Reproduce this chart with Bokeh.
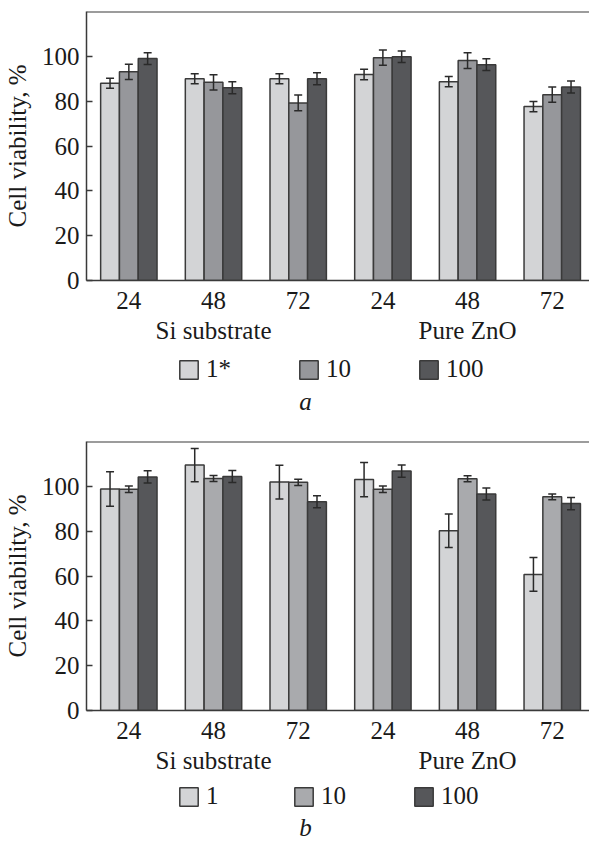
from bokeh.plotting import figure
from bokeh.models import (Range1d, FixedTicker, LinearAxis, Legend, LegendItem,
                          Whisker, TeeHead, ColumnDataSource, Label, Span)
from bokeh.layouts import column
from bokeh.embed import file_html
from bokeh.resources import INLINE

# ---------------- data ----------------
groups = ["Si substrate", "Pure ZnO"]
hours = ["24", "48", "72", "24", "48", "72"]
conc_a = ["1*", "10", "100"]
conc_b = ["1", "10", "100"]
y_ticks = [0, 20, 40, 60, 80, 100]

a_low = [88.0, 90.0, 90.0, 91.9, 88.7, 77.6]
a_low_err = [2.2, 2.2, 2.2, 2.3, 2.3, 2.3]
a_mid = [93.1, 88.4, 79.2, 99.4, 98.1, 82.9]
a_mid_err = [3.4, 3.4, 3.5, 3.4, 3.5, 3.4]
a_high = [99.0, 86.0, 90.0, 99.8, 96.3, 86.3]
a_high_err = [2.6, 2.7, 2.7, 2.6, 2.6, 2.7]

b_low = [98.8, 109.5, 101.9, 103.0, 80.2, 60.7]
b_low_err = [7.7, 7.4, 7.5, 7.6, 7.5, 7.5]
b_mid = [98.7, 103.5, 101.8, 98.7, 103.4, 95.3]
b_mid_err = [1.5, 1.3, 1.4, 1.5, 1.3, 1.3]
b_high = [104.2, 104.4, 93.1, 106.8, 96.6, 92.3]
b_high_err = [2.7, 2.7, 2.7, 2.7, 2.7, 2.7]

colors_a = ["#d3d4d6", "#96979b", "#56575a"]
colors_b = ["#d3d4d6", "#a9aaad", "#56575a"]

FONT = "Liberation Serif"
FS = "25px"
TXT = "#1a1a1a"
EDGE = "#3a3a3a"
WHISK = "#2a2a2a"
BW = 0.222


def make_chart(series, errs, colors, height, top_border, bottom_border):
    p = figure(width=589, height=height,
               x_range=Range1d(0, 5.94), y_range=Range1d(0, 120),
               output_backend="svg", toolbar_location=None,
               min_border_left=78, min_border_right=0,
               min_border_top=top_border, min_border_bottom=bottom_border)
    p.xgrid.grid_line_color = None
    p.ygrid.grid_line_color = None
    p.outline_line_color = None

    n = len(hours)
    sources = []
    for k, (vals, er, col) in enumerate(zip(series, errs, colors)):
        xs = [i + 0.5 + (k - 1) * BW for i in range(n)]
        src = ColumnDataSource(dict(
            x=xs, top=vals,
            upper=[v + e for v, e in zip(vals, er)],
            lower=[v - e for v, e in zip(vals, er)]))
        sources.append(src)
        p.vbar(x="x", top="top", width=BW, source=src,
               fill_color=col, line_color=EDGE, line_width=1.5)
        w = Whisker(source=src, base="x", upper="upper", lower="lower",
                    line_color=WHISK, line_width=1.5, level="annotation",
                    upper_head=TeeHead(size=8, line_color=WHISK, line_width=1.5),
                    lower_head=TeeHead(size=8, line_color=WHISK, line_width=1.5))
        p.add_layout(w)

    # top frame line (the right edge is cut off in the reference)
    p.add_layout(Span(location=120, dimension="width", line_color=EDGE, line_width=2))

    p.yaxis.ticker = FixedTicker(ticks=y_ticks, minor_ticks=[])
    p.yaxis.major_tick_in = 6
    p.yaxis.major_tick_out = 0
    p.yaxis.major_tick_line_color = EDGE
    p.yaxis.major_tick_line_width = 1.5
    p.yaxis.axis_line_color = EDGE
    p.yaxis.axis_line_width = 1.5
    p.yaxis.major_label_standoff = 7
    p.yaxis.major_label_text_font = FONT
    p.yaxis.major_label_text_font_size = FS
    p.yaxis.major_label_text_color = TXT
    p.yaxis.axis_label = "Cell viability, %"
    p.yaxis.axis_label_text_font = FONT
    p.yaxis.axis_label_text_font_size = FS
    p.yaxis.axis_label_text_font_style = "normal"
    p.yaxis.axis_label_text_color = TXT
    p.yaxis.axis_label_standoff = 8

    centers = [i + 0.5 for i in range(n)]
    p.xaxis.ticker = FixedTicker(ticks=centers, minor_ticks=[])
    p.xaxis.major_label_overrides = {c: h for c, h in zip(centers, hours)}
    p.xaxis.major_tick_line_color = None
    p.xaxis.major_tick_in = 0
    p.xaxis.major_tick_out = 0
    p.xaxis.axis_line_color = EDGE
    p.xaxis.axis_line_width = 1.5
    p.xaxis.major_label_standoff = 11
    p.xaxis.major_label_text_font = FONT
    p.xaxis.major_label_text_font_size = FS
    p.xaxis.major_label_text_color = TXT

    gcent = [1.5, 4.5]
    ga = LinearAxis(ticker=FixedTicker(ticks=gcent, minor_ticks=[]),
                    major_label_overrides={c: g for c, g in zip(gcent, groups)},
                    axis_line_color=None, major_tick_line_color=None,
                    minor_tick_line_color=None, major_tick_in=0, major_tick_out=0,
                    major_label_standoff=5,
                    major_label_text_font=FONT, major_label_text_font_size=FS,
                    major_label_text_color=TXT)
    p.add_layout(ga, "below")
    return p, sources


def make_legend(sources, labels, colors, tag, height, leg_vy, tag_y):
    # strip holding the legend and the panel letter; its renderers share the
    # chart's data but are hidden, only their legend swatches are shown
    lp = figure(width=589, height=height,
                x_range=Range1d(0, 5.94), y_range=Range1d(-2, -1),
                output_backend="svg", toolbar_location=None,
                x_axis_location=None, y_axis_location=None,
                min_border_left=78, min_border_right=0,
                min_border_top=0, min_border_bottom=0)
    lp.xgrid.grid_line_color = None
    lp.ygrid.grid_line_color = None
    lp.outline_line_color = None
    rs = [lp.vbar(x="x", top="top", width=BW, source=s, fill_color=c,
                  line_color=EDGE, line_width=1.5)
          for s, c in zip(sources, colors)]
    for r in rs:
        r.visible = False
    legend = Legend(items=[LegendItem(label=l, renderers=[r]) for l, r in zip(labels, rs)],
                    orientation="horizontal", location=(91, leg_vy),
                    glyph_width=23, glyph_height=23, label_standoff=6, spacing=66,
                    padding=0, margin=0, border_line_color=None,
                    background_fill_alpha=0, click_policy="none",
                    label_text_font=FONT, label_text_font_size=FS,
                    label_text_color=TXT)
    lp.add_layout(legend)
    lp.add_layout(Label(x=219, y=tag_y, x_units="screen", y_units="screen", text=tag,
                        text_align="center", text_baseline="middle",
                        text_font=FONT, text_font_size=FS, text_font_style="italic",
                        text_color=TXT))
    return lp


p1, s1 = make_chart([a_low, a_mid, a_high], [a_low_err, a_mid_err, a_high_err], colors_a,
                    346, 11, 64)
l1 = make_legend(s1, conc_a, colors_a, "a", 70, 33, 15)
p2, s2 = make_chart([b_low, b_mid, b_high], [b_low_err, b_mid_err, b_high_err], colors_b,
                    360, 25, 64)
l2 = make_legend(s2, conc_b, colors_b, "b", 64, 30, 13)

layout = column(p1, l1, p2, l2, spacing=0)
open("out.html", "w").write(file_html(layout, INLINE))
